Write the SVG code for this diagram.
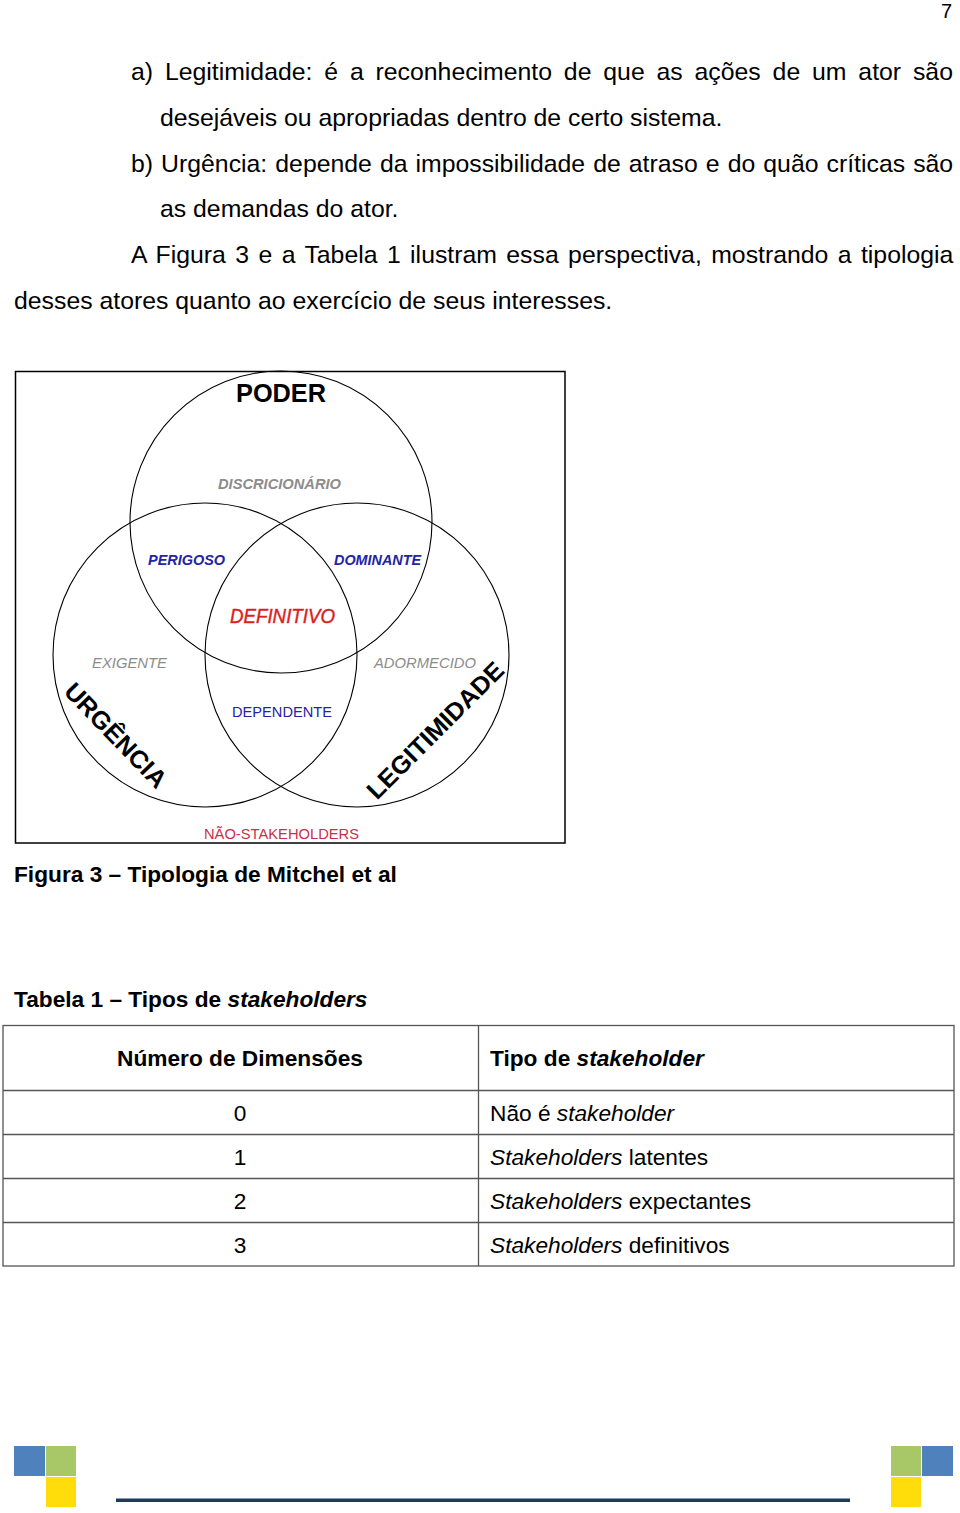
<svg xmlns="http://www.w3.org/2000/svg" width="960" height="1513" viewBox="0 0 960 1513">
<style>
  text { font-family: "Liberation Sans", Arial, sans-serif; fill: #000; }
  .body { font-size: 24.8px; }
  .cap { font-size: 22.7px; font-weight: bold; }
  .tbl { font-size: 22.7px; }
  .th { font-size: 22.7px; font-weight: bold; }
  .circle { fill: none; stroke: #000; stroke-width: 1.1; }
  .grid { stroke: #555; stroke-width: 1.3; fill: none; }
  .big { font-size: 25px; font-weight: bold; }
  .lbl { font-size: 15px; }
  .gray { fill: #8c8c8c; }
  .blue { fill: #2323a5; }
</style>
<rect x="0" y="0" width="960" height="1513" fill="#fff"/>

<g id="page-number"><text x="952" y="18" font-size="20" text-anchor="end">7</text></g>

<g id="paragraphs">
  <text class="body" x="131" y="80" word-spacing="4.97">a) Legitimidade: é a reconhecimento de que as ações de um ator são</text>
  <text class="body" x="160" y="126">desejáveis ou apropriadas dentro de certo sistema.</text>
  <text class="body" x="131" y="172" word-spacing="1.18">b) Urgência: depende da impossibilidade de atraso e do quão críticas são</text>
  <text class="body" x="160" y="217">as demandas do ator.</text>
  <text class="body" x="131" y="263" word-spacing="2.52">A Figura 3 e a Tabela 1 ilustram essa perspectiva, mostrando a tipologia</text>
  <text class="body" x="14" y="309">desses atores quanto ao exercício de seus interesses.</text>
</g>

<g id="figure3">
  <rect id="frame" x="15.5" y="371.5" width="549.5" height="471.5" fill="#fff" stroke="#000" stroke-width="1.5"/>
  <g id="circle-poder"><circle class="circle" cx="281" cy="522" r="151"/></g>
  <g id="circle-urgencia"><circle class="circle" cx="205" cy="655" r="152"/></g>
  <g id="circle-legitimidade"><circle class="circle" cx="357" cy="655" r="152"/></g>

  <g id="label-poder"><text class="big" x="281" y="402" font-size="26" text-anchor="middle" textLength="90" lengthAdjust="spacingAndGlyphs">PODER</text></g>
  <g id="label-urgencia"><text class="big" transform="translate(116,735) rotate(46)" x="0" y="9" text-anchor="middle" textLength="135" lengthAdjust="spacingAndGlyphs">URGÊNCIA</text></g>
  <g id="label-legitimidade"><text class="big" transform="translate(435,730) rotate(-45)" x="0" y="9" text-anchor="middle" textLength="182" lengthAdjust="spacingAndGlyphs">LEGITIMIDADE</text></g>

  <g id="label-discricionario"><text class="lbl gray" x="218" y="489" font-weight="bold" font-style="italic" textLength="123" lengthAdjust="spacingAndGlyphs">DISCRICIONÁRIO</text></g>
  <g id="label-perigoso"><text class="lbl blue" x="148" y="565" font-weight="bold" font-style="italic" textLength="77" lengthAdjust="spacingAndGlyphs">PERIGOSO</text></g>
  <g id="label-dominante"><text class="lbl blue" x="334" y="565" font-weight="bold" font-style="italic" textLength="87" lengthAdjust="spacingAndGlyphs">DOMINANTE</text></g>
  <g id="label-definitivo"><text x="230" y="623" font-size="20" font-style="italic" style="fill:#dc2020;stroke:#dc2020;stroke-width:0.4" textLength="105" lengthAdjust="spacingAndGlyphs">DEFINITIVO</text></g>
  <g id="label-exigente"><text class="lbl gray" x="92" y="668" font-style="italic" textLength="75" lengthAdjust="spacingAndGlyphs">EXIGENTE</text></g>
  <g id="label-adormecido"><text class="lbl gray" x="374" y="668" font-style="italic" textLength="102" lengthAdjust="spacingAndGlyphs">ADORMECIDO</text></g>
  <g id="label-dependente"><text class="lbl blue" x="232" y="717" textLength="100" lengthAdjust="spacingAndGlyphs">DEPENDENTE</text></g>
  <g id="label-nao-stakeholders"><text class="lbl" x="204" y="839" style="fill:#c8304a" textLength="155" lengthAdjust="spacingAndGlyphs">NÃO-STAKEHOLDERS</text></g>
</g>

<g id="caption-figura"><text class="cap" x="14" y="882">Figura 3 – Tipologia de Mitchel et al</text></g>
<g id="caption-tabela"><text class="cap" x="14" y="1007">Tabela 1 – Tipos de <tspan font-style="italic">stakeholders</tspan></text></g>

<g id="table1">
  <rect class="grid" x="3" y="1025.5" width="951" height="240.5"/>
  <line class="grid" x1="478.5" y1="1025.5" x2="478.5" y2="1266"/>
  <line class="grid" x1="3" y1="1090.5" x2="954" y2="1090.5"/>
  <line class="grid" x1="3" y1="1134.5" x2="954" y2="1134.5"/>
  <line class="grid" x1="3" y1="1178.5" x2="954" y2="1178.5"/>
  <line class="grid" x1="3" y1="1222.5" x2="954" y2="1222.5"/>

  <text class="th" x="240" y="1066" text-anchor="middle">Número de Dimensões</text>
  <text class="th" x="490" y="1066">Tipo de <tspan font-style="italic">stakeholder</tspan></text>

  <text class="tbl" x="240" y="1121" text-anchor="middle">0</text>
  <text class="tbl" x="490" y="1121">Não é <tspan font-style="italic">stakeholder</tspan></text>
  <text class="tbl" x="240" y="1165" text-anchor="middle">1</text>
  <text class="tbl" x="490" y="1165"><tspan font-style="italic">Stakeholders</tspan> latentes</text>
  <text class="tbl" x="240" y="1209" text-anchor="middle">2</text>
  <text class="tbl" x="490" y="1209"><tspan font-style="italic">Stakeholders</tspan> expectantes</text>
  <text class="tbl" x="240" y="1253" text-anchor="middle">3</text>
  <text class="tbl" x="490" y="1253"><tspan font-style="italic">Stakeholders</tspan> definitivos</text>
</g>

<g id="footer">
  <rect x="14" y="1446" width="31" height="30" fill="#4f81bd"/>
  <rect x="46" y="1446" width="30" height="30" fill="#a8c867"/>
  <rect x="46" y="1477" width="30" height="30" fill="#fedd0a"/>
  <rect x="891" y="1446" width="30" height="30" fill="#a8c867"/>
  <rect x="922" y="1446" width="31" height="30" fill="#4f81bd"/>
  <rect x="891" y="1477" width="30" height="30" fill="#fedd0a"/>
  <rect x="116" y="1498.5" width="734" height="3.5" fill="#1d3b56"/>
</g>
</svg>
